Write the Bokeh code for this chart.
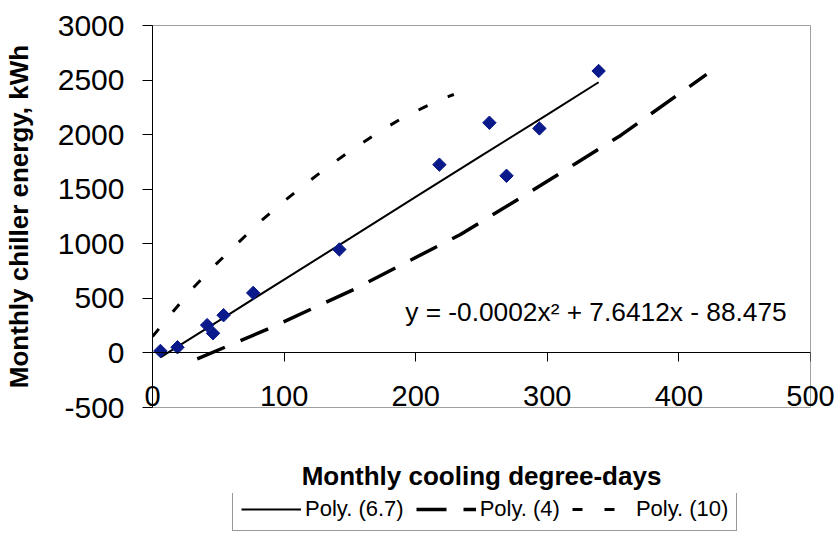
import numpy as np
from bokeh.plotting import figure
from bokeh.layouts import column
from bokeh.models import LinearAxis, FixedTicker, Legend, LegendItem, Label, Range1d
from bokeh.embed import file_html
from bokeh.resources import INLINE

# ---- data ----
cdd = [6, 19, 41.5, 46, 54, 76.5, 142, 218, 256, 269, 294, 339]
energy = [18, 52, 255, 180, 346, 550, 948, 1725, 2109, 1623, 2057, 2583]

poly67_x = [6, 50, 100, 150, 200, 250, 300, 339]
poly67_y = [-40, 292, 672, 1050, 1430, 1808, 2184, 2480]

poly4_x = [34, 87, 153, 221, 234, 287, 321, 356, 421]
poly4_y = [-55, 215, 582, 1005, 1085, 1475, 1732, 1995, 2552]

poly10_x = [0, 16, 31, 48, 66, 83, 100, 118, 135, 152, 171, 188, 207, 226, 229]
poly10_y = [150, 385, 598, 810, 1020, 1215, 1390, 1565, 1720, 1865, 2015, 2140, 2255, 2355, 2368]

x_ticks = [0, 100, 200, 300, 400, 500]
y_ticks = [-500, 0, 500, 1000, 1500, 2000, 2500, 3000]
y_tick_labels = ["-500", "0", "500", "1000", "1500", "2000", "2500", "3000"]

series_labels = ["Poly. (6.7)", "Poly. (4)", "Poly. (10)"]
equation = "y = -0.0002x\u00b2 + 7.6412x - 88.475"
x_title = "Monthly cooling degree-days"
y_title = "Monthly chiller energy, kWh"

FONT = "Liberation Sans"
STYLES = [dict(line_color="black", line_width=2),
          dict(line_color="black", line_width=3.5, line_dash="30 17"),
          dict(line_color="black", line_width=3, line_dash="10 22")]

p = figure(width=840, height=493, output_backend="svg", toolbar_location=None,
           x_range=Range1d(0, 500), y_range=Range1d(-500, 3000),
           min_border_left=152, min_border_right=30, min_border_top=25,
           min_border_bottom=85)
p.background_fill_color = "white"
p.border_fill_color = "white"
p.outline_line_color = "#a0a0a0"
p.outline_line_width = 1
p.xgrid.visible = False
p.ygrid.visible = False

# y axis
ya = p.yaxis[0]
ya.ticker = FixedTicker(ticks=y_ticks)
ya.major_label_overrides = {t: s for t, s in zip(y_ticks, y_tick_labels)}
ya.axis_line_color = "black"
ya.major_tick_line_color = "black"
ya.major_tick_out = 10
ya.major_tick_in = 0
ya.minor_tick_out = 0
ya.minor_tick_in = 0
ya.major_label_text_font = FONT
ya.major_label_text_font_size = "30px"
ya.major_label_text_color = "black"
ya.major_label_standoff = 18
ya.axis_label = y_title
ya.axis_label_text_font = FONT
ya.axis_label_text_font_size = "26px"
ya.axis_label_text_font_style = "bold"
ya.axis_label_text_color = "black"
ya.axis_label_standoff = 21

# x axis (labels at bottom)
xa = p.xaxis[0]
xa.ticker = FixedTicker(ticks=x_ticks)
xa.axis_line_color = None
xa.major_tick_out = 0
xa.major_tick_in = 0
xa.minor_tick_out = 0
xa.minor_tick_in = 0
xa.major_label_text_font = FONT
xa.major_label_text_font_size = "29px"
xa.major_label_text_color = "black"
xa.major_label_standoff = -22
xa.axis_label = x_title
xa.axis_label_text_font = FONT
xa.axis_label_text_font_size = "26px"
xa.axis_label_text_font_style = "bold"
xa.axis_label_text_color = "black"
xa.axis_label_standoff = 52

# x axis line crossing at y = 0
x0 = LinearAxis(fixed_location=0, ticker=FixedTicker(ticks=x_ticks))
x0.axis_line_color = "black"
x0.major_tick_line_color = "black"
x0.major_tick_out = 9
x0.major_tick_in = 0
x0.minor_tick_out = 0
x0.minor_tick_in = 0
x0.major_label_overrides = {t: "" for t in x_ticks}
p.add_layout(x0, "below")

# trend lines
p.line(poly67_x, poly67_y, **STYLES[0])
p.line(poly4_x, poly4_y, **STYLES[1])
p.line(poly10_x, poly10_y, **STYLES[2])

# data points
p.scatter(cdd, energy, marker="square", size=9.5, angle=np.pi / 4,
          fill_color="#0b1a8a", line_color="#0b1a8a")

# equation
p.add_layout(Label(x=192, y=374, text=equation, text_font=FONT,
                   text_font_size="26.3px", text_color="black",
                   text_baseline="alphabetic"))

# ---- legend strip below the chart ----
q = figure(width=840, height=40, output_backend="svg", toolbar_location=None,
           x_range=Range1d(10000, 10001), y_range=Range1d(10000, 10001),
           x_axis_type=None, y_axis_type=None,
           min_border_left=0, min_border_right=0, min_border_top=0,
           min_border_bottom=0)
q.outline_line_color = None
q.xgrid.visible = False
q.ygrid.visible = False
q.background_fill_color = "white"
q.border_fill_color = "white"
l1 = q.line(poly67_x, poly67_y, **STYLES[0])
l2 = q.line(poly4_x, poly4_y, **STYLES[1])
l3 = q.line(poly10_x, poly10_y, **STYLES[2])

legend = Legend(items=[LegendItem(label=series_labels[0], renderers=[l1]),
                       LegendItem(label=series_labels[1], renderers=[l2]),
                       LegendItem(label=series_labels[2], renderers=[l3])],
                orientation="horizontal", location=(80, 2),
                glyph_width=60, glyph_height=20, label_standoff=4, spacing=12,
                padding=8, margin=0, border_line_color="#333333",
                label_text_font=FONT, label_text_font_size="22px",
                label_text_color="black",
                background_fill_color="white", background_fill_alpha=1)
q.add_layout(legend)

layout = column(p, q, spacing=0)
open("out.html", "w").write(file_html(layout, INLINE))
